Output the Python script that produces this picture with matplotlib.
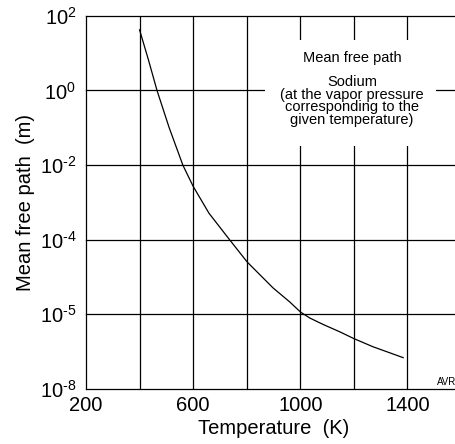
import matplotlib
matplotlib.use("Agg")
import matplotlib.pyplot as plt
from matplotlib.ticker import FixedLocator, FixedFormatter, NullLocator

plt.rcParams["font.family"] = ["Liberation Sans", "DejaVu Sans"]
plt.rcParams["mathtext.fontset"] = "custom"
plt.rcParams["mathtext.rm"] = "Liberation Sans"
plt.rcParams["mathtext.it"] = "Liberation Sans"

# temperature (K) and log10 of mean free path (m)
temperature = [400, 433, 465, 510, 562, 600, 659, 737, 802, 898, 961, 1001, 1036, 1085,
               1148, 1200, 1272, 1334, 1384]
log_mfp = [1.62, 0.82, 0.0, -0.99, -2.01, -2.57, -3.29, -4.01, -4.60, -5.29, -5.67, -5.94,
           -6.10, -6.27, -6.47, -6.65, -6.87, -7.03, -7.16]
mfp = [10 ** v for v in log_mfp]

x_ticks = [200, 600, 1000, 1400]
x_grid = [400, 600, 800, 1000, 1200, 1400, 1600]
y_ticks = [1e-8, 1e-6, 1e-4, 1e-2, 1e0, 1e2]
y_labels = [r"$10^{\text{-}8}$", r"$10^{\text{-}5}$", r"$10^{\text{-}4}$",
            r"$10^{\text{-}2}$", "$10^{0}$", "$10^{2}$"]

fig = plt.figure(figsize=(4.56, 4.44), dpi=100)
W, H = 456, 444
ax = fig.add_axes([86 / W, (H - 389) / H, (461 - 86) / W, (389 - 15.7) / H])

ax.set_yscale("log")
ax.set_xlim(200, 1600)
ax.set_ylim(1e-8, 1e2)

for x in x_grid:
    ax.axvline(x, color="black", lw=0.9, zorder=1)
for y in y_ticks[1:]:
    ax.axhline(y, color="black", lw=0.9, zorder=1, clip_on=False)

ax.plot(temperature, mfp, color="black", lw=0.9, zorder=3)

ax.xaxis.set_major_locator(FixedLocator(x_ticks))
ax.yaxis.set_major_locator(FixedLocator(y_ticks))
ax.yaxis.set_major_formatter(FixedFormatter(y_labels))
ax.yaxis.set_minor_locator(NullLocator())
ax.tick_params(length=0, labelsize=14.5)
ax.tick_params(axis="x", pad=5)
ax.tick_params(axis="y", pad=7)

for s in ["top", "right"]:
    ax.spines[s].set_visible(False)
for s in ["left", "bottom"]:
    ax.spines[s].set_linewidth(0.9)

ax.set_xlabel("Temperature  (K)", fontsize=14.5, labelpad=3)
ax.set_ylabel("Mean free path  (m)", fontsize=14.5, labelpad=3)

# white label box in the upper right
fig.patches.append(plt.Rectangle((265 / W, 1 - 146 / H), (436 - 265) / W, (146 - 40) / H,
                                 transform=fig.transFigure, facecolor="white",
                                 edgecolor="none", zorder=5))
fig.text(352 / W, 1 - 58 / H, "Mean free path", ha="center", va="center", fontsize=10.5, zorder=6)
fig.text(352 / W, 1 - 101 / H,
         "Sodium\n(at the vapor pressure\ncorresponding to the\ngiven temperature)",
         ha="center", va="center", fontsize=10.5, linespacing=0.9, zorder=6)
fig.text(437 / W, 1 - 382 / H, "AVR", ha="left", va="center", fontsize=7)

fig.savefig("out.png", dpi=100)
